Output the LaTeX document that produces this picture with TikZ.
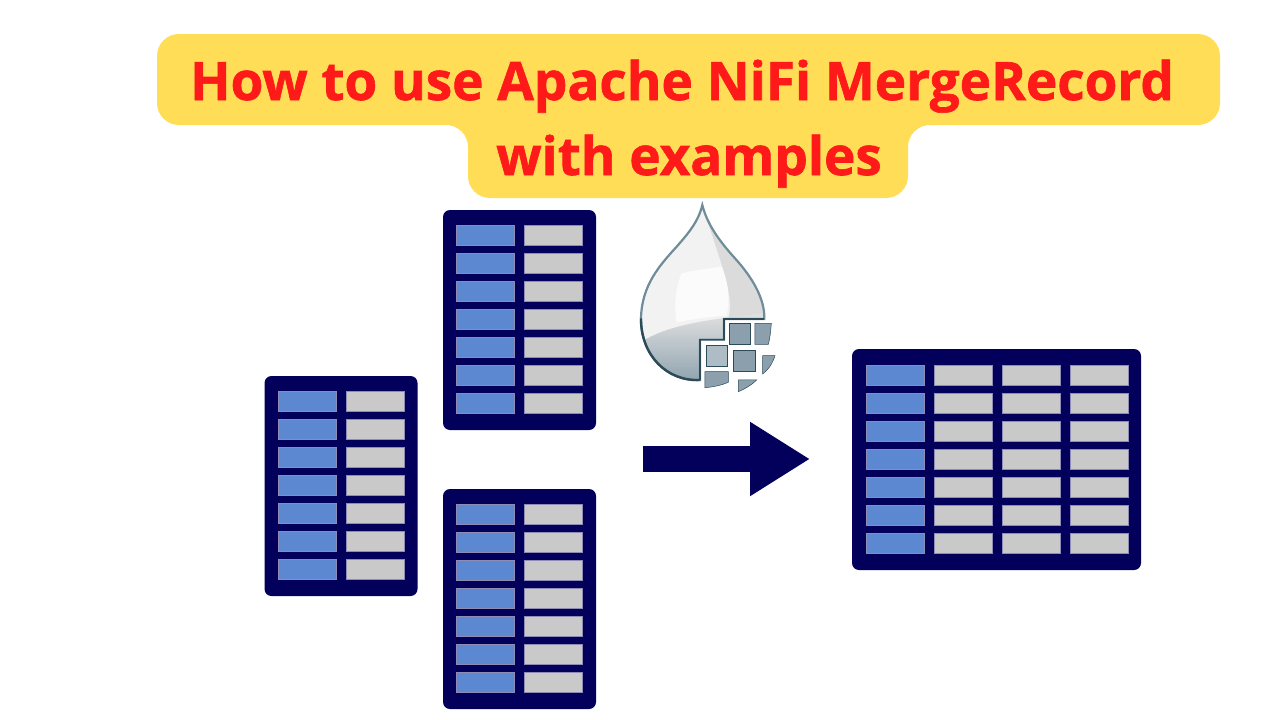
\documentclass[tikz,border=0pt]{standalone}
\usepackage{fontspec}
\usepackage{xcolor}
\usepackage{tikz}
\usetikzlibrary{arrows.meta}
\newfontfamily\titlefont[BoldFeatures={FakeBold=1.2}]{Open Sans}
\definecolor{bannercolor}{HTML}{FFDD57}
\definecolor{titlecolor}{HTML}{FF1A1A}
\definecolor{framecolor}{HTML}{03005B}
\definecolor{keycolor}{HTML}{5B88D1}
\definecolor{valuecolor}{HTML}{C9C9C9}
\definecolor{dropedge}{HTML}{6F8C98}
\definecolor{dropdark}{HTML}{2C4A58}
\definecolor{blockcolor}{HTML}{8BA0AC}

\begin{document}
\begin{tikzpicture}[
    x=1pt, y=-1pt,
    title/.style={anchor=base, inner sep=0pt, text=titlecolor, font=\titlefont\bfseries\fontsize{53}{60}\selectfont},
    frame/.style={fill=framecolor, rounded corners=7pt, inner sep=0pt},
    cell/.style={draw=framecolor!45!white, line width=.4pt, minimum width=58pt, minimum height=20pt, inner sep=0pt},
    keycell/.style={cell, fill=keycolor},
    valuecell/.style={cell, fill=valuecolor},
    block/.style={fill=blockcolor, draw=dropdark, line width=.5pt},
  ]
  \useasboundingbox (0,0) rectangle (1280,720);

  % banner
  \fill[bannercolor, rounded corners=22pt] (157,34) -- (1220,34) -- (1220,125) -- (908,125)
    -- (908,198) -- (468,198) -- (468,125) -- (157,125) -- cycle;
  \node[title] (line1) at (682,100) {How to use Apache NiFi MergeRecord};
  \node[title] (line2) at (689,175) {with examples};

  % input tables
  \foreach \tname/\tx/\ty in {tablea/341/486, tableb/519.5/320, tablec/519.5/599} {
    \node[frame, minimum width=153pt, minimum height=220pt] (\tname) at (\tx,\ty) {};
    \foreach \r in {0,...,6} {
      \node[keycell] (\tname-k\r) at (\tx-34,\ty-85+28*\r) {};
      \node[valuecell] (\tname-v\r) at (\tx+34,\ty-85+28*\r) {};
    }
  }

  % merged table
  \node[frame, minimum width=289pt, minimum height=221pt] (merged) at (996.5,459.5) {};
  \foreach \r in {0,...,6} {
    \node[keycell] (merged-k\r) at (895,375+28*\r) {};
    \foreach \c in {0,1,2} {
      \node[valuecell] (merged-v\r\c) at (963+68*\c,375+28*\r) {};
    }
  }

  % arrow
  \coordinate (arrowstart) at (643,459);
  \coordinate (arrowend) at (810,459);
  \draw[framecolor, line width=26pt, -{Triangle[length=60pt,width=70pt]}] (arrowstart) -- (arrowend);

  % drop logo
  \begin{scope}[xshift=620pt, yshift=-195pt, x=.3333pt, y=-.3333pt]
    \def\dropshape{(247,30) .. controls (262,90) and (300,140) .. (345,190)
      .. controls (395,245) and (435,310) .. (433,372) -- (312,372) -- (312,434) -- (240,434)
      -- (240,555) .. controls (140,560) and (62,480) .. (63,370)
      .. controls (65,270) and (120,210) .. (170,155)
      .. controls (205,115) and (235,80) .. (247,30) -- cycle}
    \begin{scope}
      \clip \dropshape;
      \fill[color=black!5] (50,20) rectangle (440,570);
      \fill[color=black!14] (247,30) .. controls (262,90) and (300,140) .. (345,190)
        .. controls (395,245) and (435,310) .. (433,372) -- (325,372)
        .. controls (345,300) and (300,200) .. (247,30) -- cycle;
      \fill[white, opacity=.75] (170,382) .. controls (160,320) and (170,270) .. (185,235)
        .. controls (225,225) and (270,220) .. (305,215)
        .. controls (325,260) and (330,310) .. (320,362)
        .. controls (270,365) and (220,372) .. (170,382) -- cycle;
      \shade[top color=black!12, bottom color=blockcolor] (50,570) -- (50,450)
        .. controls (120,400) and (220,375) .. (440,355) -- (440,570) -- cycle;
    \end{scope}
    \draw[dropedge, line width=2.2pt] \dropshape;
    \draw[dropdark, line width=2.4pt] (63,370) .. controls (62,480) and (140,560) .. (240,555);
    \draw[dropdark, line width=1.4pt] (433,372) -- (312,372) -- (312,434) -- (240,434) -- (240,555);
    \fill[block] (328,385) rectangle (392,448);
    \fill[block] (405,385) -- (454,385) .. controls (452,410) and (450,430) .. (445,448) -- (405,448) -- cycle;
    \fill[block, fill=blockcolor!70!white] (260,452) rectangle (322,515);
    \fill[block] (340,465) rectangle (406,530);
    \fill[block] (428,482) -- (465,482) .. controls (458,505) and (445,525) .. (428,537) -- cycle;
    \fill[block] (255,530) -- (325,530) -- (325,562) .. controls (300,572) and (280,576) .. (255,578) -- cycle;
    \fill[block] (355,555) -- (410,555) .. controls (395,570) and (375,582) .. (355,590) -- cycle;
  \end{scope}
\end{tikzpicture}
\end{document}
